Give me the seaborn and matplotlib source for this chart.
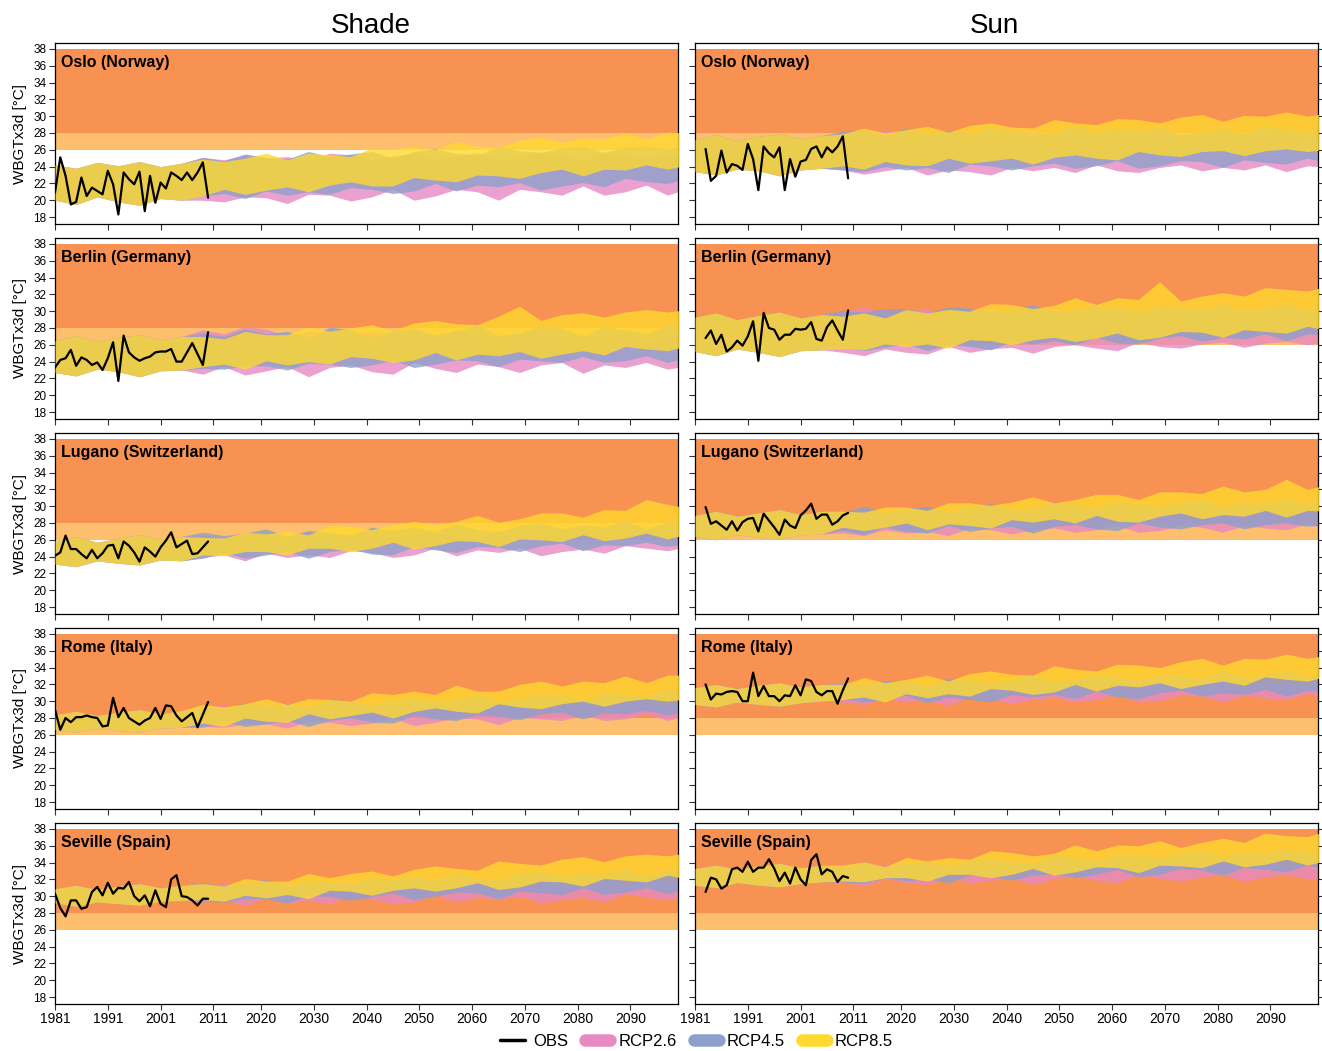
import matplotlib
matplotlib.use("Agg")
import matplotlib.pyplot as plt
import seaborn as sns
from matplotlib.lines import Line2D

# ---------------- categories / axes ----------------
CITIES = ["Oslo (Norway)", "Berlin (Germany)", "Lugano (Switzerland)", "Rome (Italy)", "Seville (Spain)"]
COLUMNS = ["Shade", "Sun"]
SCENARIOS = ["RCP2.6", "RCP4.5", "RCP8.5"]
X_TICKS = [1981, 1991, 2001, 2011, 2020, 2030, 2040, 2050, 2060, 2070, 2080, 2090]
Y_TICKS = [18, 20, 22, 24, 26, 28, 30, 32, 34, 36, 38]

HIST_YEARS = [1981, 1985, 1989, 1993, 1997, 2001, 2005]
FUT_YEARS = [2009, 2013, 2017, 2021, 2025, 2029, 2033, 2037, 2041, 2045, 2049, 2053,
             2057, 2061, 2065, 2069, 2073, 2077, 2081, 2085, 2089, 2093, 2097, 2101]
OBS_SHADE_YEARS = list(range(1981, 2011))
OBS_SUN_YEARS = list(range(1983, 2011))

# ---------------- Oslo ----------------
OSLO_SHADE_OBS = [20.9, 25.1, 22.9, 19.5, 19.8, 22.7, 20.5, 21.5, 21.1, 20.7, 23.5, 21.9, 18.3, 23.3, 22.5,
                  21.9, 23.4, 18.7, 22.9, 19.7, 22.1, 21.4, 23.3, 22.9, 22.4, 23.3, 22.4, 23.3, 24.5, 20.3]
OSLO_SHADE_HIST_LO = [20.0, 19.5, 20.4, 19.8, 19.4, 20.2, 20.0]
OSLO_SHADE_HIST_HI = [24.2, 23.8, 24.5, 24.1, 24.6, 24.0, 24.4]
OSLO_SHADE_85_HI = [24.9, 24.6, 25.0, 25.6, 24.8, 25.6, 25.4, 25.2, 26.2, 26.0, 26.4, 26.0, 27.0, 26.4, 26.3, 27.1, 27.5, 26.9, 27.4, 27.3, 28.0, 27.3, 28.1, 28.0]
OSLO_SHADE_85_LO = [20.5, 21.3, 20.7, 21.2, 21.6, 21.0, 21.8, 22.2, 21.7, 21.7, 22.7, 22.4, 22.2, 23.0, 22.9, 22.6, 23.3, 23.7, 22.9, 23.7, 23.6, 24.2, 23.7, 24.2]
OSLO_SHADE_45_HI = [25.1, 24.7, 25.5, 25.1, 24.9, 25.8, 25.2, 25.5, 25.8, 25.0, 25.8, 26.1, 25.6, 25.4, 26.3, 25.9, 25.7, 26.2, 26.4, 25.7, 26.3, 26.4, 26.1, 26.4]
OSLO_SHADE_45_LO = [20.5, 20.8, 20.2, 21.1, 20.6, 21.0, 20.7, 21.5, 21.3, 20.8, 21.1, 22.0, 21.1, 21.8, 21.6, 22.1, 21.2, 21.7, 22.1, 21.6, 22.6, 22.2, 22.0, 22.6]
OSLO_SHADE_26_HI = [25.1, 24.8, 25.4, 25.0, 25.2, 24.7, 25.6, 25.4, 24.8, 25.3, 25.5, 24.9, 25.2, 25.7, 24.8, 25.1, 25.7, 25.5, 24.8, 25.6, 25.3, 25.0, 25.7, 25.1]
OSLO_SHADE_26_LO = [20.0, 19.8, 20.4, 20.3, 19.6, 20.7, 20.6, 19.9, 20.4, 21.3, 20.0, 20.5, 21.3, 21.0, 20.0, 21.3, 21.0, 20.6, 21.7, 20.6, 21.0, 21.8, 20.6, 21.4]

OSLO_SUN_OBS = [26.1, 22.3, 22.9, 25.9, 23.3, 24.3, 24.1, 23.6, 26.7, 24.9, 21.2, 26.4, 25.6, 25.1,
                26.3, 21.2, 24.9, 22.8, 24.6, 24.8, 26.1, 26.4, 25.1, 26.3, 25.7, 26.4, 27.6, 22.6]
OSLO_SUN_HIST_LO = [23.4, 23.0, 23.7, 23.5, 22.9, 23.6, 23.8]
OSLO_SUN_HIST_HI = [27.2, 27.8, 27.1, 27.6, 27.9, 27.3, 27.7]
OSLO_SUN_85_HI = [27.9, 28.6, 28.0, 28.4, 28.8, 28.1, 28.9, 29.2, 28.7, 28.6, 29.6, 29.2, 29.0, 29.7, 29.6, 29.2, 29.9, 30.2, 29.4, 30.1, 30.0, 30.5, 30.0, 30.4]
OSLO_SUN_85_LO = [24.1, 23.7, 24.6, 24.2, 24.1, 25.0, 24.4, 24.7, 25.0, 24.3, 25.1, 25.4, 25.0, 24.8, 25.8, 25.4, 25.2, 25.8, 25.9, 25.3, 25.9, 26.1, 25.8, 26.1]
OSLO_SUN_45_HI = [28.2, 28.4, 27.7, 28.6, 28.0, 28.3, 27.9, 28.7, 28.4, 27.8, 28.1, 28.9, 28.0, 28.6, 28.3, 28.7, 27.8, 28.2, 28.5, 27.9, 28.9, 28.5, 28.2, 28.7]
OSLO_SUN_45_LO = [23.6, 23.4, 24.0, 23.6, 23.9, 23.3, 24.3, 24.1, 23.6, 24.1, 24.4, 23.8, 24.1, 24.7, 23.8, 24.1, 24.7, 24.6, 23.9, 24.8, 24.5, 24.3, 25.0, 24.4]
OSLO_SUN_26_HI = [28.1, 27.9, 28.3, 28.2, 27.6, 28.3, 28.2, 27.7, 28.0, 28.4, 27.5, 27.8, 28.3, 28.1, 27.4, 28.1, 27.9, 27.6, 28.3, 27.5, 27.6, 28.1, 27.3, 27.8]
OSLO_SUN_26_LO = [23.6, 23.1, 23.5, 23.9, 23.0, 23.6, 23.4, 23.0, 23.9, 23.5, 23.9, 23.3, 24.2, 23.5, 23.3, 23.9, 24.2, 23.5, 23.9, 23.6, 24.2, 23.4, 24.1, 23.9]

# ---------------- Berlin ----------------
BERLIN_SHADE_OBS = [23.3, 24.2, 24.4, 25.4, 23.5, 24.5, 24.2, 23.6, 23.9, 23.0, 24.4, 26.3, 21.7, 27.1, 25.1,
                    24.5, 24.1, 24.4, 24.6, 25.1, 25.2, 25.2, 25.5, 24.0, 24.0, 25.1, 26.2, 24.9, 23.6, 27.5]
BERLIN_SHADE_HIST_LO = [22.7, 22.3, 23.1, 22.8, 22.2, 22.9, 23.0]
BERLIN_SHADE_HIST_HI = [26.5, 27.1, 26.4, 26.9, 27.2, 26.6, 27.0]
BERLIN_SHADE_85_HI = [27.0, 26.7, 27.6, 27.2, 27.2, 28.1, 27.6, 28.0, 28.4, 27.7, 28.6, 28.9, 28.5, 28.4, 29.4, 30.6, 28.9, 29.6, 29.8, 29.3, 29.9, 30.2, 29.9, 30.2]
BERLIN_SHADE_85_LO = [23.4, 23.7, 23.1, 24.1, 23.6, 24.0, 23.7, 24.6, 24.4, 23.9, 24.2, 25.1, 24.2, 24.9, 24.7, 25.2, 24.4, 24.9, 25.3, 24.8, 25.8, 25.5, 25.3, 25.9]
BERLIN_SHADE_45_HI = [27.4, 27.0, 27.9, 27.3, 27.6, 26.7, 28.1, 27.8, 26.9, 27.7, 28.0, 27.2, 27.6, 28.4, 27.1, 27.4, 28.3, 28.0, 27.0, 28.2, 27.8, 27.3, 28.4, 27.5]
BERLIN_SHADE_45_LO = [23.2, 23.1, 23.5, 23.5, 23.0, 23.8, 23.7, 23.3, 23.6, 24.2, 23.3, 23.7, 24.2, 24.1, 23.4, 24.3, 24.1, 23.9, 24.6, 23.9, 24.1, 24.7, 23.9, 24.5]
BERLIN_SHADE_26_HI = [27.8, 27.3, 28.2, 27.9, 27.0, 27.6, 27.3, 26.8, 27.7, 27.3, 27.6, 27.0, 27.8, 27.0, 26.8, 27.4, 27.6, 26.8, 27.2, 26.9, 27.5, 26.5, 27.2, 27.0]
BERLIN_SHADE_26_LO = [22.5, 23.4, 22.4, 22.9, 23.4, 22.2, 23.3, 23.6, 22.8, 22.5, 23.9, 23.2, 22.7, 23.7, 23.4, 22.7, 23.6, 23.9, 22.6, 23.6, 23.3, 23.9, 23.1, 23.5]

BERLIN_SUN_OBS = [26.8, 27.7, 26.1, 27.2, 25.2, 25.7, 26.5, 25.9, 27.0, 28.8, 24.1, 29.8, 28.0, 27.8,
                  26.6, 27.2, 27.2, 27.9, 27.8, 27.9, 28.7, 26.7, 26.5, 28.1, 28.9, 27.7, 26.6, 30.1]
BERLIN_SUN_HIST_LO = [25.2, 24.7, 25.5, 25.1, 24.6, 25.3, 25.4]
BERLIN_SUN_HIST_HI = [29.3, 29.8, 29.0, 29.5, 29.9, 29.2, 29.6]
BERLIN_SUN_85_HI = [29.4, 29.8, 29.2, 30.2, 29.8, 30.2, 30.0, 30.9, 30.8, 30.3, 30.7, 31.6, 30.8, 31.6, 31.4, 33.5, 31.2, 31.8, 32.2, 31.8, 32.8, 32.6, 32.4, 33.0]
BERLIN_SUN_85_LO = [25.6, 25.4, 26.1, 25.8, 26.1, 25.6, 26.6, 26.5, 26.0, 26.6, 26.9, 26.4, 26.8, 27.4, 26.6, 26.9, 27.6, 27.5, 26.9, 27.8, 27.6, 27.4, 28.2, 27.7]
BERLIN_SUN_45_HI = [30.1, 29.9, 30.3, 30.3, 29.8, 30.5, 30.4, 29.9, 30.2, 30.8, 29.9, 30.2, 30.7, 30.5, 29.9, 30.7, 30.5, 30.2, 30.9, 30.1, 30.4, 30.9, 30.1, 30.6]
BERLIN_SUN_45_LO = [25.7, 25.3, 25.7, 26.1, 25.3, 26.0, 25.8, 25.4, 26.4, 26.1, 26.5, 26.0, 26.9, 26.2, 26.1, 26.8, 27.1, 26.4, 26.9, 26.7, 27.3, 26.5, 27.3, 27.2]
BERLIN_SUN_26_HI = [29.9, 30.5, 29.8, 30.0, 30.3, 29.5, 30.2, 30.3, 29.7, 29.5, 30.4, 29.9, 29.5, 30.1, 29.9, 29.4, 29.9, 30.1, 29.2, 29.8, 29.6, 29.9, 29.3, 29.6]
BERLIN_SUN_26_LO = [25.1, 24.7, 25.5, 25.1, 24.9, 25.8, 25.1, 25.5, 25.7, 25.0, 25.8, 26.0, 25.6, 25.3, 26.3, 25.8, 25.6, 26.1, 26.3, 25.7, 26.2, 26.4, 26.0, 26.3]

# ---------------- Lugano ----------------
LUGANO_SHADE_OBS = [24.1, 24.5, 26.5, 24.9, 24.9, 24.3, 23.8, 24.8, 23.8, 24.4, 25.3, 25.4, 23.8, 25.8, 25.3,
                    24.5, 23.4, 25.1, 24.6, 24.0, 25.1, 25.9, 26.9, 25.1, 25.5, 25.9, 24.3, 24.4, 25.1, 25.8]
LUGANO_SHADE_HIST_LO = [23.1, 22.8, 23.5, 23.2, 23.0, 23.6, 23.5]
LUGANO_SHADE_HIST_HI = [25.9, 26.4, 25.7, 26.2, 26.6, 26.0, 26.4]
LUGANO_SHADE_85_HI = [26.3, 26.2, 26.9, 26.7, 27.0, 26.6, 27.7, 27.6, 27.2, 27.8, 28.2, 27.8, 28.2, 28.9, 28.1, 28.5, 29.2, 29.2, 28.7, 29.6, 29.5, 30.8, 30.2, 29.8]
LUGANO_SHADE_85_LO = [24.2, 24.1, 24.6, 24.6, 24.2, 25.0, 25.0, 24.6, 25.0, 25.7, 24.9, 25.3, 25.9, 25.8, 25.2, 26.1, 26.0, 25.8, 26.6, 25.9, 26.2, 26.8, 26.1, 26.7]
LUGANO_SHADE_45_HI = [26.9, 26.5, 26.8, 27.3, 26.4, 27.1, 26.9, 26.5, 27.5, 27.1, 27.5, 27.0, 27.9, 27.2, 27.0, 27.7, 28.0, 27.3, 27.8, 27.5, 28.2, 27.3, 28.1, 28.0]
LUGANO_SHADE_45_LO = [23.8, 24.5, 23.8, 24.2, 24.6, 23.8, 24.6, 24.9, 24.3, 24.2, 25.2, 24.8, 24.5, 25.2, 25.1, 24.6, 25.3, 25.6, 24.7, 25.4, 25.3, 25.7, 25.2, 25.6]
LUGANO_SHADE_26_HI = [26.6, 26.1, 26.9, 26.4, 26.2, 27.0, 26.3, 26.6, 26.8, 26.0, 26.7, 26.9, 26.4, 26.1, 27.0, 26.5, 26.2, 26.7, 26.8, 26.1, 26.6, 26.7, 26.3, 26.5]
LUGANO_SHADE_26_LO = [23.9, 24.2, 23.5, 24.4, 23.9, 24.2, 23.9, 24.7, 24.5, 23.9, 24.2, 25.0, 24.1, 24.8, 24.5, 25.0, 24.1, 24.6, 24.9, 24.4, 25.3, 25.0, 24.7, 25.2]

LUGANO_SUN_OBS = [29.9, 27.9, 28.2, 27.7, 27.2, 28.2, 27.1, 28.1, 28.5, 28.6, 27.0, 29.1, 28.3, 27.5,
                  26.6, 28.4, 27.7, 27.4, 28.9, 29.5, 30.3, 28.5, 29.0, 29.0, 27.8, 28.2, 28.9, 29.2]
LUGANO_SUN_HIST_LO = [26.4, 26.0, 26.6, 26.3, 26.1, 26.6, 26.7]
LUGANO_SUN_HIST_HI = [28.9, 29.4, 28.8, 29.2, 29.6, 29.0, 29.4]
LUGANO_SUN_85_HI = [29.4, 29.3, 29.9, 29.9, 29.5, 30.4, 30.4, 30.1, 30.5, 31.1, 30.4, 30.8, 31.4, 31.4, 30.8, 31.7, 31.7, 31.5, 32.4, 31.7, 32.0, 33.2, 32.0, 32.6]
LUGANO_SUN_85_LO = [27.5, 27.1, 27.5, 28.0, 27.2, 27.9, 27.7, 27.4, 28.4, 28.1, 28.5, 28.0, 28.9, 28.2, 28.1, 28.8, 29.2, 28.5, 29.0, 28.8, 29.5, 28.7, 29.5, 29.4]
LUGANO_SUN_45_HI = [29.3, 30.0, 29.3, 29.7, 30.0, 29.3, 30.0, 30.3, 29.7, 29.6, 30.5, 30.1, 29.8, 30.5, 30.3, 29.9, 30.5, 30.8, 29.9, 30.6, 30.4, 30.9, 30.3, 30.7]
LUGANO_SUN_45_LO = [27.1, 26.6, 27.5, 27.0, 26.8, 27.7, 27.0, 27.4, 27.6, 26.8, 27.6, 27.8, 27.3, 27.1, 28.0, 27.5, 27.3, 27.8, 28.0, 27.3, 27.8, 28.0, 27.6, 27.8]
LUGANO_SUN_26_HI = [29.3, 29.5, 28.8, 29.7, 29.1, 29.4, 29.0, 29.8, 29.5, 28.9, 29.1, 29.9, 29.0, 29.6, 29.3, 29.7, 28.8, 29.2, 29.5, 28.9, 29.8, 29.4, 29.1, 29.6]
LUGANO_SUN_26_LO = [26.8, 26.5, 27.2, 26.8, 27.0, 26.5, 27.4, 27.2, 26.7, 27.2, 27.4, 26.9, 27.2, 27.7, 26.9, 27.1, 27.7, 27.5, 26.9, 27.7, 27.4, 27.2, 27.9, 27.3]

# ---------------- Rome ----------------
ROME_SHADE_OBS = [29.0, 26.6, 28.0, 27.5, 28.1, 28.1, 28.3, 28.1, 28.0, 27.0, 27.1, 30.4, 28.1, 29.2, 28.0,
                  27.6, 27.2, 27.7, 28.0, 29.2, 27.9, 29.5, 29.4, 28.3, 27.6, 28.1, 28.6, 26.9, 28.4, 29.9]
ROME_SHADE_HIST_LO = [26.6, 26.3, 26.8, 26.5, 26.3, 26.8, 26.9]
ROME_SHADE_HIST_HI = [28.4, 28.8, 28.3, 28.7, 29.0, 28.5, 28.9]
ROME_SHADE_85_HI = [29.6, 29.3, 29.7, 30.3, 29.6, 30.3, 30.2, 30.0, 31.0, 30.8, 31.2, 30.8, 31.9, 31.2, 31.2, 32.0, 32.4, 31.8, 32.4, 32.2, 33.0, 32.2, 33.1, 33.1]
ROME_SHADE_85_LO = [27.4, 27.0, 28.0, 27.6, 27.5, 28.5, 27.9, 28.3, 28.7, 28.0, 28.8, 29.2, 28.8, 28.6, 29.7, 29.3, 29.1, 29.7, 30.0, 29.4, 30.0, 30.3, 30.0, 30.3]
ROME_SHADE_45_HI = [29.3, 29.1, 29.8, 29.4, 29.7, 29.2, 30.2, 30.0, 29.5, 30.1, 30.4, 29.9, 30.2, 30.8, 30.0, 30.3, 30.9, 30.8, 30.2, 31.1, 30.8, 30.6, 31.4, 30.9]
ROME_SHADE_45_LO = [26.9, 27.6, 27.0, 27.3, 27.7, 27.0, 27.7, 28.0, 27.5, 27.4, 28.3, 27.9, 27.7, 28.4, 28.2, 27.8, 28.5, 28.7, 27.9, 28.6, 28.5, 28.9, 28.4, 28.8]
ROME_SHADE_26_HI = [29.3, 29.5, 28.9, 29.8, 29.2, 29.5, 29.1, 30.0, 29.7, 29.1, 29.3, 30.2, 29.3, 29.9, 29.6, 30.0, 29.2, 29.6, 29.9, 29.3, 30.3, 29.9, 29.6, 30.1]
ROME_SHADE_26_LO = [27.0, 26.9, 27.3, 27.3, 26.8, 27.6, 27.5, 27.1, 27.4, 28.0, 27.1, 27.5, 28.0, 27.9, 27.2, 28.1, 27.9, 27.7, 28.4, 27.7, 27.9, 28.5, 27.7, 28.3]

ROME_SUN_OBS = [32.0, 30.2, 30.9, 30.8, 31.1, 31.2, 31.1, 30.0, 30.0, 33.4, 30.6, 31.8, 30.6, 30.6,
                30.0, 30.7, 30.6, 31.9, 30.7, 32.6, 32.4, 31.1, 30.7, 31.2, 31.2, 29.7, 31.3, 32.7]
ROME_SUN_HIST_LO = [29.6, 29.3, 29.9, 29.6, 29.4, 29.8, 30.0]
ROME_SUN_HIST_HI = [31.6, 32.0, 31.5, 31.9, 32.2, 31.7, 32.0]
ROME_SUN_85_HI = [32.0, 32.8, 32.2, 32.6, 33.1, 32.4, 33.3, 33.6, 33.2, 33.1, 34.2, 33.8, 33.6, 34.4, 34.3, 34.0, 34.7, 35.1, 34.3, 35.1, 35.0, 35.6, 35.1, 35.5]
ROME_SUN_85_LO = [30.2, 30.5, 29.9, 30.9, 30.4, 30.9, 30.6, 31.5, 31.3, 30.8, 31.1, 32.0, 31.2, 31.9, 31.7, 32.2, 31.5, 32.0, 32.4, 31.9, 32.9, 32.6, 32.4, 33.0]
ROME_SUN_45_HI = [32.1, 32.0, 32.4, 32.4, 31.9, 32.7, 32.6, 32.2, 32.5, 33.1, 32.3, 32.6, 33.2, 33.0, 32.4, 33.2, 33.1, 32.8, 33.6, 32.9, 33.1, 33.7, 32.9, 33.5]
ROME_SUN_45_LO = [30.3, 29.9, 30.2, 30.7, 29.8, 30.5, 30.2, 29.9, 30.8, 30.5, 30.8, 30.3, 31.2, 30.5, 30.3, 31.0, 31.3, 30.6, 31.0, 30.8, 31.4, 30.6, 31.3, 31.2]
ROME_SUN_26_HI = [32.1, 31.6, 32.4, 31.9, 31.7, 32.5, 31.8, 32.1, 32.3, 31.5, 32.2, 32.5, 32.0, 31.7, 32.6, 32.1, 31.8, 32.3, 32.4, 31.7, 32.2, 32.3, 32.0, 32.2]
ROME_SUN_26_LO = [29.9, 29.6, 30.3, 29.9, 30.1, 29.5, 30.5, 30.3, 29.7, 30.2, 30.5, 29.9, 30.2, 30.8, 29.9, 30.1, 30.7, 30.6, 29.9, 30.7, 30.4, 30.2, 30.9, 30.3]

# ---------------- Seville ----------------
SEVILLE_SHADE_OBS = [30.3, 28.6, 27.6, 29.5, 29.5, 28.5, 28.7, 30.5, 31.1, 30.1, 31.6, 30.3, 31.0, 30.9, 31.7,
                     30.0, 29.4, 30.1, 28.8, 30.7, 29.1, 28.7, 32.0, 32.5, 30.0, 29.9, 29.5, 28.9, 29.7, 29.7]
SEVILLE_SHADE_HIST_LO = [29.2, 28.8, 29.3, 29.1, 28.9, 29.4, 29.5]
SEVILLE_SHADE_HIST_HI = [30.9, 31.3, 30.8, 31.2, 31.5, 31.0, 31.3]
SEVILLE_SHADE_85_HI = [31.5, 31.2, 32.1, 31.8, 31.8, 32.7, 32.2, 32.7, 33.0, 32.4, 33.2, 33.6, 33.3, 33.1, 34.2, 33.9, 33.7, 34.4, 34.7, 34.1, 34.8, 35.0, 34.8, 35.2]
SEVILLE_SHADE_85_LO = [29.6, 29.4, 30.1, 29.8, 30.2, 29.7, 30.7, 30.6, 30.1, 30.7, 31.0, 30.6, 31.0, 31.6, 30.8, 31.1, 31.8, 31.7, 31.2, 32.1, 31.9, 31.7, 32.5, 32.0]
SEVILLE_SHADE_45_HI = [31.6, 31.2, 31.6, 32.0, 31.2, 31.9, 31.7, 31.3, 32.3, 32.0, 32.4, 31.9, 32.8, 32.1, 32.0, 32.7, 33.0, 32.3, 32.8, 32.6, 33.2, 32.4, 33.2, 33.1]
SEVILLE_SHADE_45_LO = [29.4, 29.3, 29.7, 29.7, 29.2, 30.0, 30.0, 29.5, 29.9, 30.4, 29.6, 30.0, 30.5, 30.4, 29.7, 30.6, 30.4, 30.2, 31.0, 30.2, 30.5, 31.0, 30.3, 30.9]
SEVILLE_SHADE_26_HI = [31.0, 31.6, 31.0, 31.3, 31.6, 30.9, 31.6, 31.9, 31.3, 31.1, 32.1, 31.6, 31.3, 32.0, 31.8, 31.3, 32.0, 32.2, 31.4, 32.0, 31.8, 32.3, 31.7, 32.0]
SEVILLE_SHADE_26_LO = [29.3, 29.5, 28.9, 29.8, 29.2, 29.5, 29.1, 30.0, 29.7, 29.1, 29.3, 30.2, 29.3, 29.9, 29.6, 30.0, 29.2, 29.6, 29.9, 29.3, 30.3, 29.9, 29.6, 30.1]

SEVILLE_SUN_OBS = [30.5, 32.2, 32.0, 30.9, 31.3, 33.2, 33.4, 32.9, 34.1, 32.9, 33.4, 33.4, 34.4, 33.3,
                   31.8, 32.8, 31.5, 33.4, 32.0, 31.3, 34.3, 35.0, 32.6, 33.2, 32.9, 31.7, 32.4, 32.2]
SEVILLE_SUN_HIST_LO = [31.3, 31.0, 31.6, 31.3, 31.1, 31.5, 31.7]
SEVILLE_SUN_HIST_HI = [33.3, 33.7, 33.2, 33.6, 33.9, 33.4, 33.7]
SEVILLE_SUN_85_HI = [33.7, 34.1, 33.5, 34.6, 34.2, 34.6, 34.4, 35.4, 35.2, 34.8, 35.1, 36.1, 35.4, 36.1, 36.0, 36.6, 35.8, 36.4, 36.9, 36.4, 37.5, 37.2, 37.1, 37.8]
SEVILLE_SUN_85_LO = [31.8, 31.7, 32.2, 32.2, 31.8, 32.6, 32.6, 32.2, 32.6, 33.3, 32.5, 32.9, 33.5, 33.4, 32.8, 33.7, 33.6, 33.4, 34.2, 33.5, 33.8, 34.4, 33.7, 34.3]
SEVILLE_SUN_45_HI = [33.4, 34.1, 33.5, 33.9, 34.2, 33.5, 34.3, 34.6, 34.1, 34.0, 35.0, 34.6, 34.3, 35.0, 34.9, 34.5, 35.2, 35.5, 34.7, 35.3, 35.2, 35.7, 35.2, 35.6]
SEVILLE_SUN_45_LO = [31.7, 31.5, 32.2, 31.8, 32.1, 31.6, 32.5, 32.4, 31.9, 32.5, 32.7, 32.2, 32.6, 33.2, 32.3, 32.6, 33.3, 33.1, 32.5, 33.4, 33.2, 32.9, 33.7, 33.2]
SEVILLE_SUN_26_HI = [33.8, 33.3, 33.7, 34.1, 33.2, 33.8, 33.5, 33.2, 34.1, 33.7, 34.0, 33.5, 34.4, 33.6, 33.4, 34.0, 34.4, 33.6, 34.0, 33.7, 34.4, 33.5, 34.2, 34.0]
SEVILLE_SUN_26_LO = [31.7, 31.2, 32.1, 31.6, 31.4, 32.3, 31.6, 31.9, 32.2, 31.4, 32.1, 32.4, 31.9, 31.6, 32.6, 32.1, 31.8, 32.3, 32.5, 31.8, 32.3, 32.5, 32.1, 32.3]

# ---------------- assemble ----------------
def panel(obs, hlo, hhi, l26, h26, l45, h45, l85, h85):
    return {"obs": obs, "hist": (hlo, hhi),
            "RCP2.6": (l26, h26), "RCP4.5": (l45, h45), "RCP8.5": (l85, h85)}

PANELS = {
    ("Oslo (Norway)", "Shade"): panel(OSLO_SHADE_OBS, OSLO_SHADE_HIST_LO, OSLO_SHADE_HIST_HI,
                                      OSLO_SHADE_26_LO, OSLO_SHADE_26_HI, OSLO_SHADE_45_LO, OSLO_SHADE_45_HI,
                                      OSLO_SHADE_85_LO, OSLO_SHADE_85_HI),
    ("Oslo (Norway)", "Sun"): panel(OSLO_SUN_OBS, OSLO_SUN_HIST_LO, OSLO_SUN_HIST_HI,
                                    OSLO_SUN_26_LO, OSLO_SUN_26_HI, OSLO_SUN_45_LO, OSLO_SUN_45_HI,
                                    OSLO_SUN_85_LO, OSLO_SUN_85_HI),
    ("Berlin (Germany)", "Shade"): panel(BERLIN_SHADE_OBS, BERLIN_SHADE_HIST_LO, BERLIN_SHADE_HIST_HI,
                                         BERLIN_SHADE_26_LO, BERLIN_SHADE_26_HI, BERLIN_SHADE_45_LO, BERLIN_SHADE_45_HI,
                                         BERLIN_SHADE_85_LO, BERLIN_SHADE_85_HI),
    ("Berlin (Germany)", "Sun"): panel(BERLIN_SUN_OBS, BERLIN_SUN_HIST_LO, BERLIN_SUN_HIST_HI,
                                       BERLIN_SUN_26_LO, BERLIN_SUN_26_HI, BERLIN_SUN_45_LO, BERLIN_SUN_45_HI,
                                       BERLIN_SUN_85_LO, BERLIN_SUN_85_HI),
    ("Lugano (Switzerland)", "Shade"): panel(LUGANO_SHADE_OBS, LUGANO_SHADE_HIST_LO, LUGANO_SHADE_HIST_HI,
                                             LUGANO_SHADE_26_LO, LUGANO_SHADE_26_HI, LUGANO_SHADE_45_LO, LUGANO_SHADE_45_HI,
                                             LUGANO_SHADE_85_LO, LUGANO_SHADE_85_HI),
    ("Lugano (Switzerland)", "Sun"): panel(LUGANO_SUN_OBS, LUGANO_SUN_HIST_LO, LUGANO_SUN_HIST_HI,
                                           LUGANO_SUN_26_LO, LUGANO_SUN_26_HI, LUGANO_SUN_45_LO, LUGANO_SUN_45_HI,
                                           LUGANO_SUN_85_LO, LUGANO_SUN_85_HI),
    ("Rome (Italy)", "Shade"): panel(ROME_SHADE_OBS, ROME_SHADE_HIST_LO, ROME_SHADE_HIST_HI,
                                     ROME_SHADE_26_LO, ROME_SHADE_26_HI, ROME_SHADE_45_LO, ROME_SHADE_45_HI,
                                     ROME_SHADE_85_LO, ROME_SHADE_85_HI),
    ("Rome (Italy)", "Sun"): panel(ROME_SUN_OBS, ROME_SUN_HIST_LO, ROME_SUN_HIST_HI,
                                   ROME_SUN_26_LO, ROME_SUN_26_HI, ROME_SUN_45_LO, ROME_SUN_45_HI,
                                   ROME_SUN_85_LO, ROME_SUN_85_HI),
    ("Seville (Spain)", "Shade"): panel(SEVILLE_SHADE_OBS, SEVILLE_SHADE_HIST_LO, SEVILLE_SHADE_HIST_HI,
                                        SEVILLE_SHADE_26_LO, SEVILLE_SHADE_26_HI, SEVILLE_SHADE_45_LO, SEVILLE_SHADE_45_HI,
                                        SEVILLE_SHADE_85_LO, SEVILLE_SHADE_85_HI),
    ("Seville (Spain)", "Sun"): panel(SEVILLE_SUN_OBS, SEVILLE_SUN_HIST_LO, SEVILLE_SUN_HIST_HI,
                                      SEVILLE_SUN_26_LO, SEVILLE_SUN_26_HI, SEVILLE_SUN_45_LO, SEVILLE_SUN_45_HI,
                                      SEVILLE_SUN_85_LO, SEVILLE_SUN_85_HI),
}

SCEN_COLORS = {"RCP2.6": "#E78AC3", "RCP4.5": "#8DA0CB", "RCP8.5": "#FFD92F"}
ORANGE = "#F79253"
LIGHT_ORANGE = "#FDBE6E"

# ---------------- drawing ----------------
sns.set_theme(style="ticks")
plt.rcParams["font.family"] = ["Liberation Sans", "DejaVu Sans"]
plt.rcParams["text.color"] = "black"
plt.rcParams["axes.labelcolor"] = "black"
plt.rcParams["xtick.color"] = "black"
plt.rcParams["ytick.color"] = "black"
plt.rcParams["axes.edgecolor"] = "black"

fig, axes = plt.subplots(5, 2, figsize=(13.22, 10.51), dpi=100, sharex=True)
fig.subplots_adjust(left=55 / 1322, right=1318 / 1322, top=1 - 43 / 1051, bottom=1 - 1004 / 1051,
                    wspace=17 / 623, hspace=14 / 181)

band_years = HIST_YEARS + FUT_YEARS
for r, city in enumerate(CITIES):
    for c, col in enumerate(COLUMNS):
        ax = axes[r, c]
        d = PANELS[(city, col)]
        ax.axhspan(28, 38, color=ORANGE, lw=0, zorder=0)
        ax.axhspan(26, 28, color=LIGHT_ORANGE, lw=0, zorder=0)
        hlo, hhi = d["hist"]
        for k, sc in enumerate(SCENARIOS):
            flo, fhi = d[sc]
            ax.fill_between(band_years, hlo + flo, hhi + fhi, color=SCEN_COLORS[sc],
                            alpha=0.8, lw=0, zorder=1 + k)
        obs_years = OBS_SHADE_YEARS if col == "Shade" else OBS_SUN_YEARS
        sns.lineplot(x=obs_years, y=d["obs"], ax=ax, color="black", lw=1.6, zorder=5)
        ax.set_xlim(1981, 2099)
        ax.set_ylim(17.17, 38.71)
        ax.set_xticks(X_TICKS)
        ax.set_yticks(Y_TICKS)
        ax.set_xlabel("")
        ax.text(6 / 623, 0.935, city, transform=ax.transAxes, fontsize=11.5, fontweight="bold",
                ha="left", va="top", zorder=6, color="black")
        for s in ax.spines.values():
            s.set_linewidth(0.9)
            s.set_color("black")
        ax.tick_params(axis="both", length=4, width=0.8, color="#333333", labelcolor="black")
        ax.tick_params(axis="y", labelsize=8.5, pad=2)
        ax.tick_params(axis="x", labelsize=10, pad=2)
        if c == 0:
            ax.set_ylabel("WBGTx3d [°C]", fontsize=11, labelpad=5, color="black")
        else:
            ax.set_ylabel("")
            ax.tick_params(axis="y", labelleft=False, right=True)

fig.text(371 / 1322, 1 - 26 / 1051, "Shade", ha="center", va="center", fontsize=20, color="black")
fig.text(994 / 1322, 1 - 26 / 1051, "Sun", ha="center", va="center", fontsize=20, color="black")

handles = [Line2D([0], [0], color="black", lw=2.5)] + [
    Line2D([0], [0], color=SCEN_COLORS[s], lw=9, solid_capstyle="round") for s in SCENARIOS]
fig.legend(handles, ["OBS"] + SCENARIOS, loc="center", bbox_to_anchor=(0.527, 0.009), ncol=4,
           frameon=False, fontsize=12, handlelength=1.5, handletextpad=0.5, columnspacing=1.0)

fig.savefig("out.png", dpi=100)
